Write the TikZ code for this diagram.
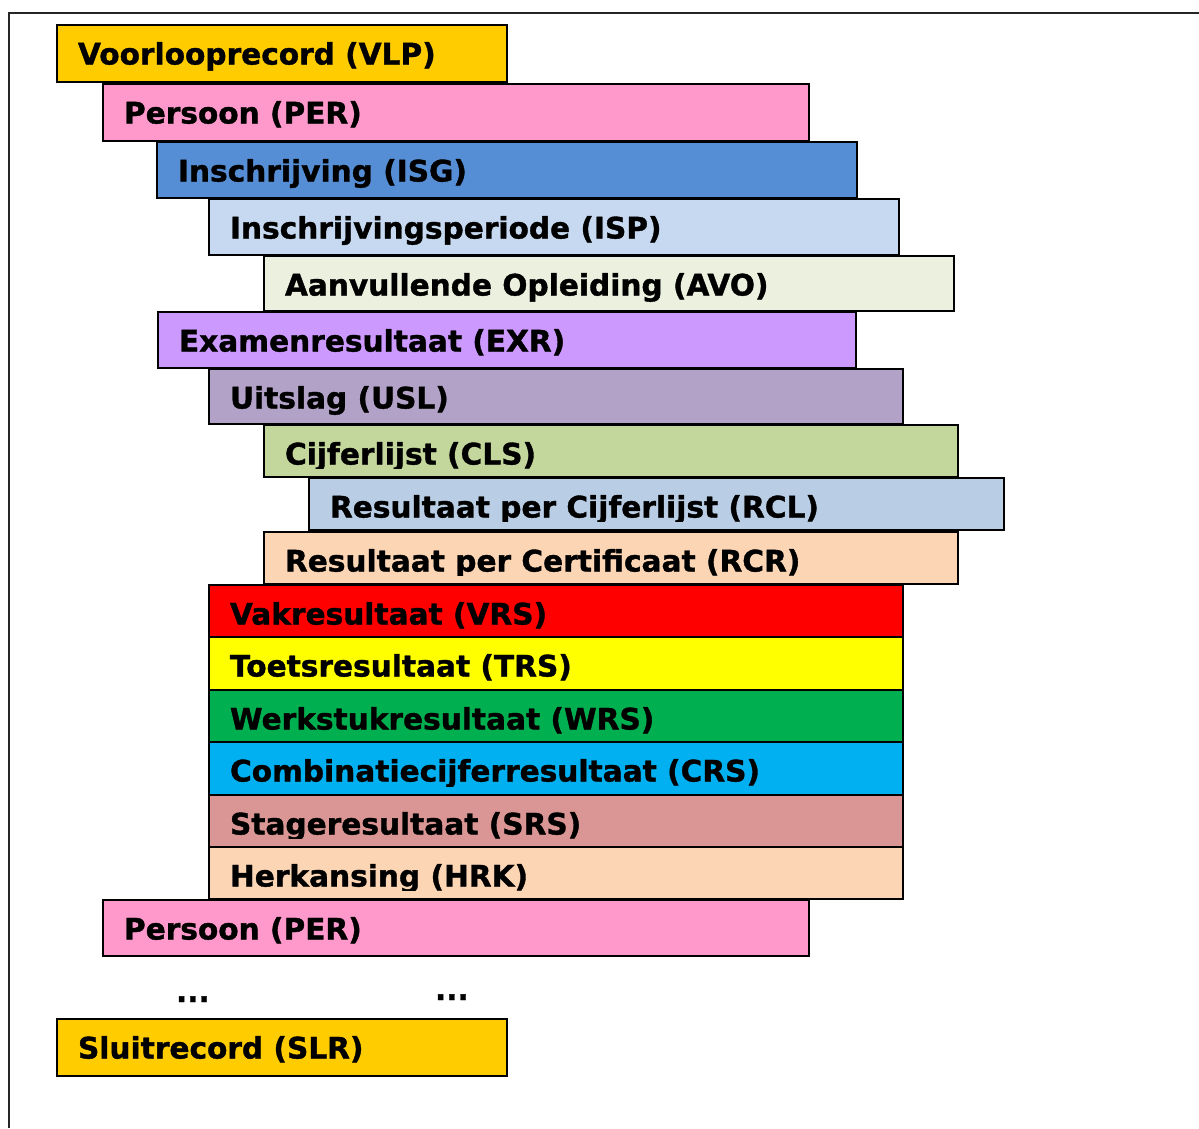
\documentclass[tikz,border=0pt]{standalone}
\usepackage{fontspec}
\setmainfont{DejaVu Sans}[BoldFeatures={FakeBold=1.2}]
\definecolor{cVLP}{HTML}{FFCC00}
\definecolor{cPER}{HTML}{FF99CC}
\definecolor{cISG}{HTML}{558ED5}
\definecolor{cISP}{HTML}{C6D9F1}
\definecolor{cAVO}{HTML}{EBF1DE}
\definecolor{cEXR}{HTML}{CC99FF}
\definecolor{cUSL}{HTML}{B3A2C7}
\definecolor{cCLS}{HTML}{C3D69B}
\definecolor{cRCL}{HTML}{B9CDE5}
\definecolor{cRCR}{HTML}{FCD5B5}
\definecolor{cVRS}{HTML}{FF0000}
\definecolor{cTRS}{HTML}{FFFF00}
\definecolor{cWRS}{HTML}{00B050}
\definecolor{cCRS}{HTML}{00B0F0}
\definecolor{cSRS}{HTML}{DA9694}
\definecolor{cHRK}{HTML}{FCD5B5}
\tikzset{
  recbox/.style={draw=black, line width=2.3pt, rectangle, inner sep=0pt, outer sep=0pt},
  rectext/.style={inner sep=0pt, outer sep=0pt, font=\fontsize{29.6}{34}\selectfont\bfseries},
  framebar/.style={draw=black!85, line width=2.2pt}
}
\newcommand\recbox[7]{%
  \node[recbox, fill=#6, minimum width={#4-#2}, minimum height={#5-#3}, anchor=north west] (#1) at (#2,#3) {};
  \begin{scope}
    \clip (#2,#3) rectangle (#4,#5-9);
    \node[rectext, anchor=base west] (#1t) at (#2+21,#3+39.5) {#7};
  \end{scope}%
}
\begin{document}
\begin{tikzpicture}[x=1pt,y=-1pt]
\useasboundingbox (0,0) rectangle (1199,1128);
\coordinate (fb) at (9,1128);
\coordinate (fc) at (9,13);
\coordinate (fr) at (1199,13);
\draw[framebar] (fb) -- (fc) -- (fr);
\recbox{vlp}{57}{25}{507}{82}{cVLP}{Voorlooprecord (VLP)}
\recbox{per}{103}{84}{809}{141}{cPER}{Persoon (PER)}
\recbox{isg}{157}{142}{857}{198}{cISG}{Inschrijving (ISG)}
\recbox{isp}{209}{199}{899}{255}{cISP}{Inschrijvingsperiode (ISP)}
\recbox{avo}{264}{256}{954}{311}{cAVO}{Aanvullende Opleiding (AVO)}
\recbox{exr}{158}{312}{856}{368}{cEXR}{Examenresultaat (EXR)}
\recbox{usl}{209}{369}{903}{424}{cUSL}{Uitslag (USL)}
\recbox{cls}{264}{425}{958}{477}{cCLS}{Cijferlijst (CLS)}
\recbox{rcl}{309}{478}{1004}{530}{cRCL}{Resultaat per Cijferlijst (RCL)}
\recbox{rcr}{264}{532}{958}{584}{cRCR}{Resultaat per Certificaat (RCR)}
\recbox{vrs}{209}{585}{903}{637}{cVRS}{Vakresultaat (VRS)}
\recbox{trs}{209}{637}{903}{690}{cTRS}{Toetsresultaat (TRS)}
\recbox{wrs}{209}{690}{903}{742}{cWRS}{Werkstukresultaat (WRS)}
\recbox{crs}{209}{742}{903}{795}{cCRS}{Combinatiecijferresultaat (CRS)}
\recbox{srs}{209}{795}{903}{847}{cSRS}{Stageresultaat (SRS)}
\recbox{hrk}{209}{847}{903}{899}{cHRK}{Herkansing (HRK)}
\recbox{per2}{103}{900}{809}{956}{cPER}{Persoon (PER)}
\node[rectext, anchor=base west] (dots1) at (176,1002) {...};
\node[rectext, anchor=base west] (dots2) at (435,1000) {...};
\recbox{slr}{57}{1019}{507}{1076}{cVLP}{Sluitrecord (SLR)}
\end{tikzpicture}
\end{document}
